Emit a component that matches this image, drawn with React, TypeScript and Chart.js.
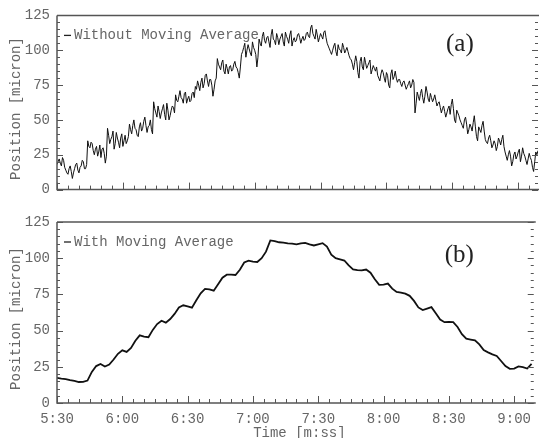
import React, { useEffect, useRef } from "react";
import { Chart, registerables } from "chart.js";
Chart.register(...registerables);

// ---- data ----
const X_MIN = 330; // 5:30
const X_MAX = 549; // ~9:09
const RAW_START = 330;
const RAW_STEP = 0.5;
const rawPosition = [
  // 5:30 - 5:43.5
  18, 20, 22, 19, 17, 23, 21, 16, 14, 12, 11, 15, 17, 13, 8, 12, 15, 18, 19, 14, 12, 16, 17, 21, 20, 15, 15, 18,
  // 5:44 - 5:52.5
  35, 31, 30, 34, 33, 28, 25, 29, 31, 24, 27, 32, 23, 29, 30, 26, 19, 24,
  // 5:53 - 6:02.5
  44, 39, 33, 36, 38, 42, 29, 33, 41, 37, 34, 30, 37, 40, 31, 35, 39, 33, 35, 38,
  // 6:03 - 6:13.5
  47, 43, 40, 46, 50, 44, 43, 39, 38, 45, 48, 42, 44, 49, 52, 46, 41, 45, 46, 50, 43, 40,
  // 6:14 - 6:23.5
  63, 58, 55, 52, 60, 56, 51, 55, 58, 61, 54, 50, 62, 57, 50, 53, 57, 60, 59, 55,
  // 6:24 - 6:32.5
  68, 64, 63, 67, 71, 66, 65, 62, 69, 70, 62, 65, 67, 63, 64, 69, 70, 66,
  // 6:33 - 6:42.5
  74, 72, 78, 75, 71, 77, 80, 73, 76, 82, 83, 78, 74, 79, 79, 75, 67, 72, 78, 80,
  // 6:43 - 6:53.5
  94, 90, 88, 86, 91, 93, 85, 83, 90, 87, 83, 88, 89, 85, 86, 90, 92, 88, 87, 84, 80, 88,
  // 6:54 - 7:01.5
  97, 99, 102, 105, 95, 100, 104, 101, 98, 96, 106, 102, 100, 97, 88, 95,
  // 7:02 - 7:33.5
  108, 105, 103, 110, 113, 107, 105, 109, 110, 106, 102, 111, 115, 108, 107, 104, 112, 109, 104, 108,
  110, 112, 106, 103, 113, 110, 108, 105, 111, 114, 103, 107, 109, 106, 107, 111, 112, 109, 105, 108,
  110, 107, 108, 112, 113, 110, 109, 116, 118, 112, 110, 108, 115, 111, 106, 109, 112, 110, 108, 113, 114, 109, 105, 103,
  // 7:34 - 7:43.5
  101, 99, 97, 100, 103, 105, 99, 96, 104, 101, 100, 98, 105, 102, 98, 100, 102, 99, 96, 94,
  // 7:44 - 7:55.5
  93, 90, 86, 91, 96, 92, 84, 80, 92, 95, 88, 86, 95, 91, 87, 89, 91, 93, 83, 86, 89, 87, 85, 88,
  // 7:56 - 8:05.5
  82, 80, 78, 83, 86, 84, 80, 77, 84, 82, 75, 73, 83, 86, 79, 81, 85, 80, 77, 79,
  // 8:06 - 8:12.5
  79, 76, 74, 77, 78, 75, 72, 74, 76, 78, 73, 75, 79, 77,
  // 8:13 - 8:23.5
  55, 62, 70, 67, 64, 69, 72, 66, 62, 67, 74, 70, 65, 63, 69, 66, 63, 65, 68, 64, 60, 62,
  // 8:24 - 8:33.5
  63, 59, 55, 58, 60, 56, 52, 55, 58, 60, 54, 61, 65, 58, 50, 48, 57, 55, 53, 50,
  // 8:34 - 8:44.5
  48, 46, 44, 50, 52, 47, 40, 43, 47, 45, 42, 48, 53, 45, 38, 35, 45, 43, 41, 46, 49, 42,
  // 8:45 - 8:54.5
  36, 34, 33, 37, 39, 35, 30, 32, 35, 33, 28, 31, 37, 35, 32, 36, 39, 31, 27, 24,
  // 8:55 - 9:09
  21, 25, 28, 24, 17, 20, 25, 27, 22, 24, 27, 29, 20, 24, 30, 26, 24, 21, 18, 22, 26, 23, 21, 16, 13, 20, 27, 25, 28,
];
const AVG_START = 330;
const AVG_STEP = 2;
const avgPosition = [
  17.3, 16.8, 16.5, 15.8, 15.2, 14.5, 14.6, 15.5, 21.5, 25.5,
  27.0, 25.2, 26.5, 30.0, 34.0, 36.4, 35.3, 38.0, 43.0, 46.7,
  45.8, 45.4, 50.5, 54.5, 56.8, 55.5, 58.0, 61.5, 66.0, 67.5,
  66.8, 65.8, 71.0, 75.8, 78.8, 78.5, 77.6, 82.0, 86.5, 88.6,
  88.7, 88.4, 92.0, 97.0, 98.3, 97.6, 97.4, 100.0, 104.5, 112.3,
  111.8, 111.0, 110.8, 110.2, 110.0, 109.5, 110.3, 110.6, 109.6, 108.8,
  109.6, 110.4, 108.0, 102.5, 100.0, 99.2, 98.4, 95.0, 92.3, 91.8,
  91.6, 92.2, 90.0, 85.5, 81.6, 81.8, 82.5, 79.0, 76.7, 76.2,
  75.5, 74.0, 70.5, 66.0, 64.2, 65.2, 66.2, 62.0, 57.6, 55.8,
  56.0, 55.8, 52.5, 47.5, 44.4, 43.8, 43.2, 40.5, 36.5, 35.0,
  33.6, 32.5, 29.0, 25.5, 23.6, 23.8, 25.3, 24.8, 23.8, 27.0,
];
const yTickValues = [0, 25, 50, 75, 100, 125];
const xTickValues = [330, 360, 390, 420, 450, 480, 510, 540];
const xTickLabels = ["5:30", "6:00", "6:30", "7:00", "7:30", "8:00", "8:30", "9:00"];
const legendLabels = ["Without Moving Average", "With Moving Average"];
const panelTags = ["(a)", "(b)"];
const yTitle = "Position [micron]";
const xTitle = "Time [m:ss]";

const MONO = "'Liberation Mono', 'Courier New', monospace";
const SERIF = "'Liberation Serif', 'Times New Roman', serif";
const TEXT = "#666";
const AXIS = "#555";

function toPoints(values: number[], start: number, step: number) {
  return values.map((v, i) => ({ x: start + i * step, y: v }));
}

function makeChart(
  canvas: HTMLCanvasElement,
  values: number[],
  start: number,
  step: number,
  idx: number
) {
  const isBottom = idx === 1;
  const decor = {
    id: "decor" + idx,
    afterDraw(chart: any) {
      const ctx = chart.ctx;
      const { left, right, top, bottom } = chart.chartArea;
      const xs = chart.scales.x;
      const ys = chart.scales.y;
      ctx.save();
      // frame
      ctx.strokeStyle = AXIS;
      ctx.lineWidth = 1.5;
      ctx.beginPath();
      ctx.moveTo(left, top);
      ctx.lineTo(right + 2, top);
      ctx.moveTo(left, top);
      ctx.lineTo(left, bottom);
      ctx.lineTo(right + 2, bottom);
      ctx.stroke();
      // ticks
      ctx.lineWidth = 1;
      ctx.beginPath();
      for (let v = 0; v <= 125; v += 5) {
        const y = Math.round(ys.getPixelForValue(v)) + 0.5;
        const len = v % 25 === 0 ? 6 : 3;
        ctx.moveTo(left, y);
        ctx.lineTo(left + len, y);
        ctx.moveTo(right, y);
        ctx.lineTo(right - len, y);
      }
      for (let t = X_MIN; t <= X_MAX; t += 5) {
        const x = Math.round(xs.getPixelForValue(t)) + 0.5;
        const len = t % 30 === 0 ? 7 : 4;
        ctx.moveTo(x, bottom);
        ctx.lineTo(x, bottom - len);
      }
      ctx.stroke();
      // legend
      const ly = top + 20;
      ctx.strokeStyle = "#222";
      ctx.lineWidth = 1.3;
      ctx.beginPath();
      ctx.moveTo(left + 7, ly);
      ctx.lineTo(left + 14, ly);
      ctx.stroke();
      ctx.fillStyle = TEXT;
      ctx.font = "14px " + MONO;
      ctx.textBaseline = "middle";
      ctx.textAlign = "left";
      ctx.fillText(legendLabels[idx], left + 17, ly);
      // panel tag
      ctx.fillStyle = "#222";
      ctx.font = "25px " + SERIF;
      ctx.fillText(panelTags[idx], right - (isBottom ? 89 : 92), top + (isBottom ? 33 : 29));
      // y title
      ctx.fillStyle = TEXT;
      ctx.font = "14px " + MONO;
      ctx.translate(16, (top + bottom) / 2 + 6);
      ctx.rotate(-Math.PI / 2);
      ctx.textAlign = "center";
      ctx.fillText(yTitle, 0, 0);
      ctx.restore();
      if (isBottom) {
        ctx.save();
        ctx.fillStyle = TEXT;
        ctx.font = "14px " + MONO;
        ctx.textAlign = "center";
        ctx.textBaseline = "middle";
        ctx.fillText(xTitle, (left + right) / 2 + 4, bottom + 30);
        ctx.restore();
      }
    },
  };

  return new Chart(canvas, {
    type: "line",
    data: {
      datasets: [
        {
          data: toPoints(values, start, step),
          borderColor: "#111",
          borderWidth: isBottom ? 1.8 : 1,
          pointRadius: 0,
          tension: 0,
          fill: false,
        },
      ],
    },
    options: {
      responsive: false,
      animation: false,
      events: [],
      layout: { padding: { top: isBottom ? 17 : 15, right: 1, left: 0, bottom: 0 } },
      plugins: { legend: { display: false }, tooltip: { enabled: false } },
      scales: {
        x: {
          type: "linear",
          min: X_MIN,
          max: X_MAX,
          afterBuildTicks: (s: any) => {
            s.ticks = xTickValues.map((v) => ({ value: v }));
          },
          afterFit: (s: any) => {
            s.height = isBottom ? 35 : 9;
          },
          grid: { display: false, drawTicks: false },
          border: { display: false },
          ticks: {
            display: isBottom,
            padding: 8,
            color: TEXT,
            font: { family: MONO, size: 14 },
            maxRotation: 0,
            autoSkip: false,
            callback: (v: any) => {
              const i = xTickValues.indexOf(Number(v));
              return i >= 0 ? xTickLabels[i] : "";
            },
          },
        },
        y: {
          min: 0,
          max: 125,
          afterBuildTicks: (s: any) => {
            s.ticks = yTickValues.map((v) => ({ value: v }));
          },
          afterFit: (s: any) => {
            s.width = 57;
          },
          grid: { display: false, drawTicks: false },
          border: { display: false },
          ticks: {
            padding: 7,
            color: TEXT,
            font: { family: MONO, size: 14 },
          },
        },
      },
    },
    plugins: [decor],
  } as any);
}

export default function App() {
  const topRef = useRef<HTMLCanvasElement>(null);
  const botRef = useRef<HTMLCanvasElement>(null);
  useEffect(() => {
    const a = makeChart(topRef.current!, rawPosition, RAW_START, RAW_STEP, 0);
    const b = makeChart(botRef.current!, avgPosition, AVG_START, AVG_STEP, 1);
    return () => {
      a.destroy();
      b.destroy();
    };
  }, []);
  return (
    <div
      style={{
        position: "fixed",
        left: 0,
        top: 0,
        width: 539,
        height: 438,
        background: "#fff",
        overflow: "hidden",
      }}
    >
      <canvas
        ref={topRef}
        width={539}
        height={205}
        style={{ position: "absolute", left: 0, top: 0, width: 539, height: 205 }}
      />
      <canvas
        ref={botRef}
        width={539}
        height={233}
        style={{ position: "absolute", left: 0, top: 205, width: 539, height: 233 }}
      />
    </div>
  );
}
